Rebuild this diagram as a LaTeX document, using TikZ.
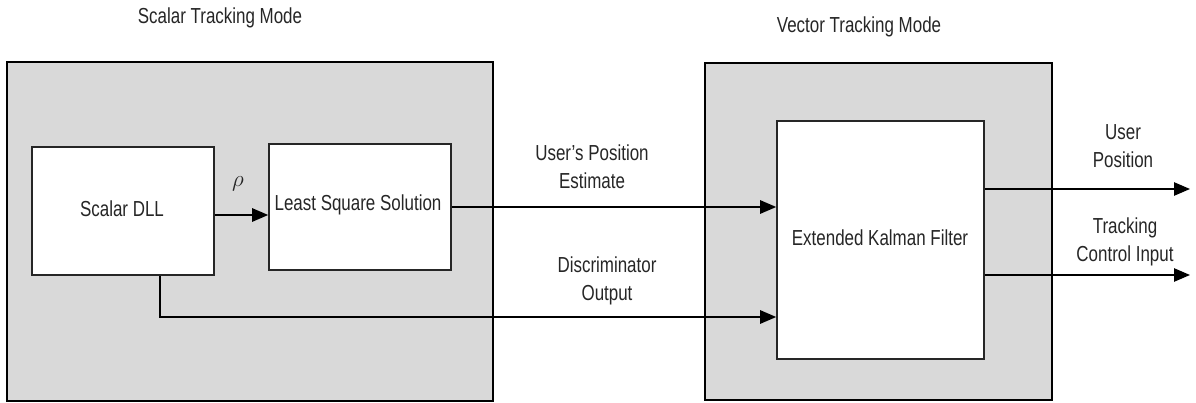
\documentclass[tikz,border=0pt]{standalone}
\usepackage{fontspec}
\setmainfont{Liberation Sans}[FakeStretch=0.78]
\usetikzlibrary{arrows.meta,fit}
\definecolor{panel}{HTML}{D9D9D9}
\definecolor{txt}{HTML}{262626}
\begin{document}
\begin{tikzpicture}[x=0.75pt,y=-0.75pt,
  font=\fontsize{16.3pt}{21pt}\selectfont,
  panelbox/.style={draw=black,line width=1.3pt,fill=panel,inner sep=0pt},
  blockbox/.style={draw=black!85,line width=1.2pt,fill=white,inner sep=0pt,text=txt},
  lbl/.style={text=txt,align=center,inner sep=0pt},
  arr/.style={draw=black,line width=1.2pt,-{Triangle[length=12pt,width=10pt]}},
  ln/.style={draw=black,line width=1.2pt}]
\useasboundingbox (0,0) rectangle (1196,403);
% panels
\node[panelbox,fit={(7,62) (493,401)}] (scalar) {};
\node[panelbox,fit={(705,63) (1052,400)}] (vector) {};
\node[lbl] (tscalar) at (220,18) {Scalar Tracking Mode};
\node[lbl] (tvector) at (859,27) {Vector Tracking Mode};
% blocks
\node[blockbox,fit={(32,147) (214,275)}] (dll) {};
\node[lbl] (dlltext) at (122,209) {Scalar DLL};
\node[blockbox,fit={(269,144) (451,270)}] (lss) {};
\node[lbl] (lsstext) at (358,205) {Least Square Solution};
\node[blockbox,fit={(777,121) (984,359)}] (ekf) {};
\node[lbl] (ekftext) at (880,238) {Extended Kalman Filter};
% connectors
\draw[arr] (dll.east |- 0,215) -- (lss.west |- 0,215);
\node[inner sep=0pt,text=txt] (rho) at (238,184) {\fontsize{18pt}{18pt}\selectfont$\rho$};
\draw[arr] (lss.east |- 0,207) -- (ekf.west |- 0,207);
\draw[ln] (dll.south -| 160,0) |- (400,317);
\draw[arr] (400,317) -- (ekf.west |- 0,317);
\coordinate (outA) at (1190,189);
\coordinate (outB) at (1190,275);
\draw[arr] (ekf.east |- outA) -- (outA);
\draw[arr] (ekf.east |- outB) -- (outB);
% labels
\node[lbl] (lblA) at (592,167) {User's Position\\Estimate};
\node[lbl] (lblB) at (607,281) {Discriminator\\Output};
\node[lbl] (lblC) at (1123,146) {User\\Position};
\node[lbl] (lblD) at (1125,242) {Tracking\\Control Input};
\end{tikzpicture}
\end{document}
